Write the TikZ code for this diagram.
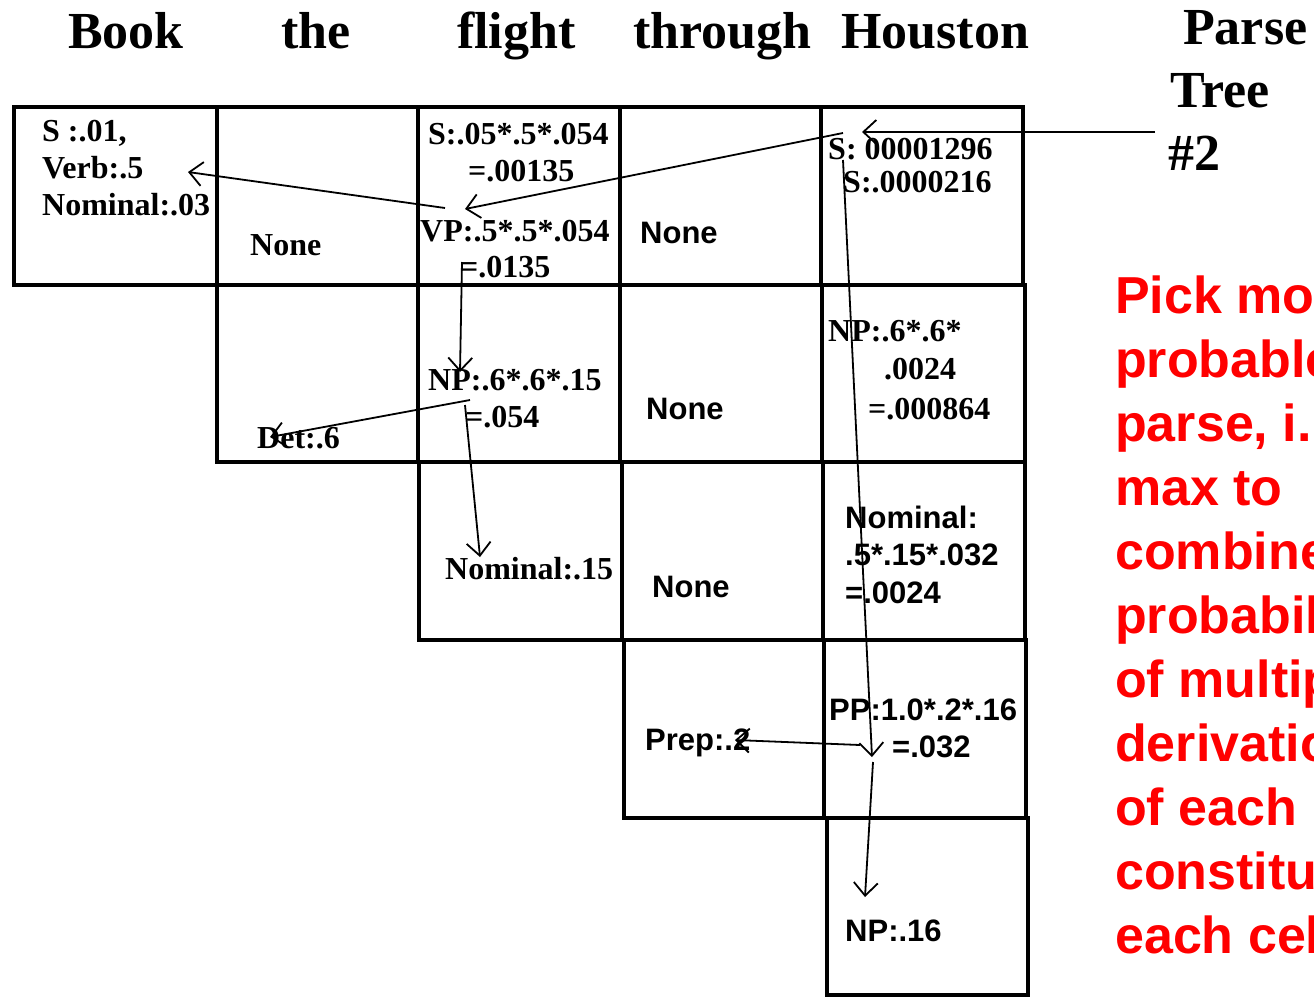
\documentclass[tikz,border=0pt]{standalone}
\usepackage{fontspec}
\setmainfont{Liberation Serif}
\setsansfont{Liberation Sans}
\usetikzlibrary{arrows.meta}
\begin{document}
\begin{tikzpicture}[x=1pt,y=-1pt,
  cellbox/.style={line width=4pt, line join=miter},
  ser/.style={font=\fontsize{32}{37}\selectfont\bfseries, inner sep=0pt, anchor=base west},
  san/.style={font=\sffamily\fontsize{31}{37}\selectfont\bfseries, inner sep=0pt, anchor=base west},
  hdr/.style={font=\fontsize{52}{60}\selectfont\bfseries, inner sep=0pt, anchor=base west},
  red/.style={font=\sffamily\fontsize{52}{60}\selectfont\bfseries, text=textred, inner sep=0pt, anchor=base west},
  arr/.style={line width=1.8pt, -{Straight Barb[length=13pt,width=24pt,line width=1.8pt]}}]
\definecolor{textred}{RGB}{255,0,0}
\useasboundingbox (0,0) rectangle (1314,997);
\clip (0,0) rectangle (1314,997);
% header
\node[hdr] (wBook) at (68,48) {Book};
\node[hdr] (wthe) at (281,48) {the};
\node[hdr] (wflight) at (457,48) {flight};
\node[hdr] (wthrough) at (633,48) {through};
\node[hdr] (wHouston) at (841,48) {Houston};
\node[hdr] (pt1) at (1183,44) {Parse};
\node[hdr] (pt2) at (1170,107) {Tree};
\node[hdr] (pt3) at (1168,170) {\#2};
% grid
\draw[cellbox] (14,107) rectangle (217,285);
\draw[cellbox] (217,107) rectangle (418,285);
\draw[cellbox] (418,107) rectangle (620,285);
\draw[cellbox] (620,107) rectangle (821,285);
\draw[cellbox] (821,107) rectangle (1023,285);
\draw[cellbox] (217,285) rectangle (418,462);
\draw[cellbox] (418,285) rectangle (620,462);
\draw[cellbox] (620,285) rectangle (822,462);
\draw[cellbox] (822,285) rectangle (1025,462);
\draw[cellbox] (419,462) rectangle (622,640);
\draw[cellbox] (622,462) rectangle (823,640);
\draw[cellbox] (823,462) rectangle (1025,640);
\draw[cellbox] (624,640) rectangle (824,818);
\draw[cellbox] (824,640) rectangle (1026,818);
\draw[cellbox] (827,818) rectangle (1028,995);
% row 1
\node[ser] (c11a) at (42,141) {S :.01,};
\node[ser] (c11b) at (42,178) {Verb:.5};
\node[ser] (c11c) at (42,215) {Nominal:.03};
\node[ser] (c12) at (250,255) {None};
\node[ser] (c13a) at (428,144) {S:.05*.5*.054};
\node[ser] (c13b) at (468,181) {=.00135};
\node[ser] (c13c) at (420,241) {VP:.5*.5*.054};
\node[ser] (c13d) at (460,277) {=.0135};
\node[san] (c14) at (640,243) {None};
\node[ser] (c15a) at (828,159) {S: 00001296};
\node[ser] (c15b) at (843,192) {S:.0000216};
% row 2
\node[ser] (c22) at (257,448) {Det:.6};
\node[ser] (c23a) at (428,390) {NP:.6*.6*.15};
\node[ser] (c23b) at (465,427) {=.054};
\node[san] (c24) at (646,419) {None};
\node[ser] (c25a) at (828,341) {NP:.6*.6*};
\node[ser] (c25b) at (884,379) {.0024};
\node[ser] (c25c) at (868,419) {=.000864};
% row 3
\node[ser] (c33) at (445,579) {Nominal:.15};
\node[san] (c34) at (652,597) {None};
\node[san] (c35a) at (845,528) {Nominal:};
\node[san] (c35b) at (845,565) {.5*.15*.032};
\node[san] (c35c) at (845,603) {=.0024};
% row 4
\node[san] (c44) at (645,750) {Prep:.2};
\node[san] (c45a) at (829,720) {PP:1.0*.2*.16};
\node[san] (c45b) at (892,757) {=.032};
% row 5
\node[san] (c55) at (845,941) {NP:.16};
% red note
\node[red] (r1) at (1115,313) {Pick mo};
\node[red] (r2) at (1115,377) {probable};
\node[red] (r3) at (1115,441) {parse, i.};
\node[red] (r4) at (1115,505) {max to};
\node[red] (r5) at (1115,569) {combine};
\node[red] (r6) at (1115,633) {probabil};
\node[red] (r7) at (1115,697) {of multip};
\node[red] (r8) at (1115,761) {derivatio};
\node[red] (r9) at (1115,825) {of each};
\node[red] (r10) at (1115,889) {constitu};
\node[red] (r11) at (1115,953) {each cel};
% arrow end points
\coordinate (treeS) at (1155,132);
\coordinate (Sin) at (862,132);
\coordinate (Sout1) at (843,133);
\coordinate (VPin) at (465,209);
\coordinate (VPout1) at (445,208);
\coordinate (Verbin) at (188,172);
\coordinate (VPout2) at (462,262);
\coordinate (NPin) at (460,372);
\coordinate (NPout1) at (470,400);
\coordinate (Detin) at (270,437);
\coordinate (NPout2) at (465,405);
\coordinate (Nomin) at (480,557);
\coordinate (Sout2) at (843,160);
\coordinate (PPin) at (872,757);
\coordinate (PPout1) at (860,745);
\coordinate (Prepin) at (735,740);
\coordinate (PPout2) at (873,762);
\coordinate (NP16in) at (865,897);
% arrows
\draw[arr] (treeS) -- (Sin);
\draw[arr] (Sout1) -- (VPin);
\draw[arr] (VPout1) -- (Verbin);
\draw[arr] (VPout2) -- (NPin);
\draw[arr] (NPout1) -- (Detin);
\draw[arr] (NPout2) -- (Nomin);
\draw[arr] (Sout2) -- (PPin);
\draw[arr] (PPout1) -- (Prepin);
\draw[arr] (PPout2) -- (NP16in);
\end{tikzpicture}
\end{document}
